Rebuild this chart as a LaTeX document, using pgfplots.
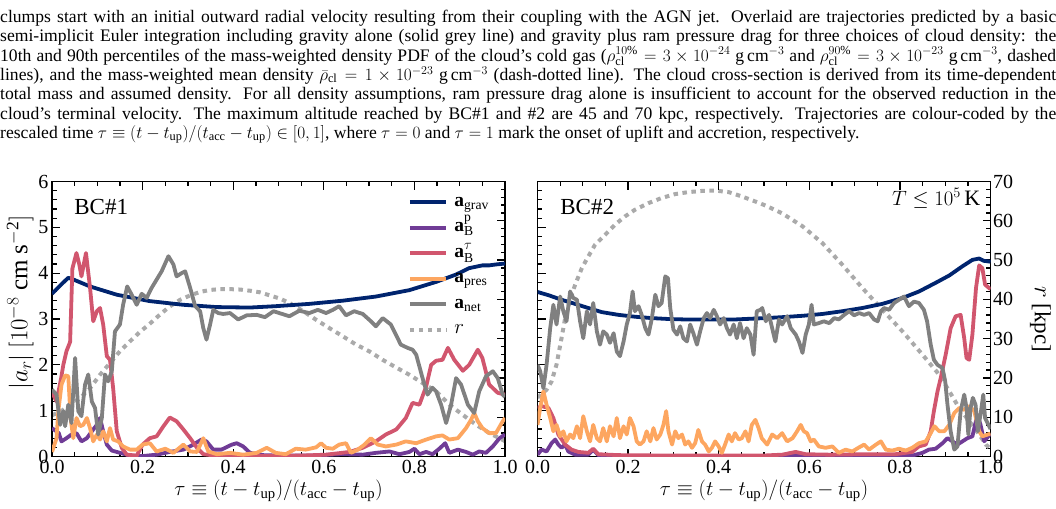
\documentclass[border=0pt]{standalone}
\usepackage{fontspec}
\setmainfont{Liberation Serif}
\usepackage{graphicx}
\usepackage{pgfplots}
\pgfplotsset{compat=1.18}
\definecolor{cgrav}{RGB}{0,36,110}
\definecolor{cbp}{RGB}{112,60,150}
\definecolor{cbt}{RGB}{209,86,110}
\definecolor{cpres}{RGB}{253,166,96}
\definecolor{cnet}{RGB}{128,128,128}
\definecolor{crr}{RGB}{170,170,170}
\newcommand{\fs}[1]{\fontsize{#1}{#1}\selectfont}
\pgfplotsset{
  base/.style={
    scale only axis, width=453pt, height=275pt,
    xmin=0, xmax=1, anchor=south west,
    tick align=inside,
    major tick length=8pt, minor tick length=4.5pt,
    every tick/.style={black, line width=1.3pt},
    axis line style={line width=1.8pt},
    /pgf/number format/assume math mode=true,
    tick label style={font=\fs{20}},
    every axis plot/.append style={line width=3.8pt, line join=round},
  },
  amain/.style={base,
    ymin=0, ymax=6, ytick={0,1,2,3,4,5,6}, minor y tick num=4,
    xtick={0,0.2,0.4,0.6,0.8,1}, minor x tick num=3,
    xtick pos=both, ytick pos=left,
    xticklabel style={/pgf/number format/fixed, /pgf/number format/fixed zerofill, /pgf/number format/precision=1},
    xlabel={$\tau\equiv(t-t_{\mathrm{up}})/(t_{\mathrm{acc}}-t_{\mathrm{up}})$},
    xlabel style={font=\fs{21}, at={(axis description cs:0.5,0)}, anchor=center, yshift=-34pt},
  },
  ar/.style={base,
    ymin=0, ymax=70, ytick={0,10,20,30,40,50,60,70}, minor y tick num=4,
    axis y line*=right, axis x line=none,
  },
  rline/.style={crr, line width=4pt, dash pattern=on 4.5pt off 4.5pt},
}
\begin{document}
\begin{tikzpicture}
\path[use as bounding box] (0pt,0pt) rectangle (1056pt,-508pt);
% caption
\begin{scope}[every node/.style={anchor=base west, inner sep=0pt, font=\fs{17.6}}]
\node at (0pt,-22.5pt) {\makebox[1056pt][s]{clumps start with an initial outward radial velocity resulting from their coupling with the AGN jet. Overlaid are trajectories predicted by a basic}};
\node at (0pt,-41.8pt) {\makebox[1056pt][s]{semi-implicit Euler integration including gravity alone (solid grey line) and gravity plus ram pressure drag for three choices of cloud density: the}};
\node at (0pt,-61.1pt) {\makebox[1056pt][s]{10th and 90th percentiles of the mass-weighted density PDF of the cloud's cold gas ($\rho_{\mathrm{cl}}^{10\%}=3\times10^{-24}$ g\,cm$^{-3}$ and $\rho_{\mathrm{cl}}^{90\%}=3\times10^{-23}$ g\,cm$^{-3}$, dashed}};
\node at (0pt,-80.4pt) {\makebox[1056pt][s]{lines), and the mass-weighted mean density $\bar{\rho}_{\mathrm{cl}}=1\times10^{-23}$ g\,cm$^{-3}$ (dash-dotted line). The cloud cross-section is derived from its time-dependent}};
\node at (0pt,-99.7pt) {\makebox[1056pt][s]{total mass and assumed density. For all density assumptions, ram pressure drag alone is insufficient to account for the observed reduction in the}};
\node at (0pt,-119pt) {\makebox[1056pt][s]{cloud's terminal velocity. The maximum altitude reached by BC\#1 and \#2 are 45 and 70 kpc, respectively. Trajectories are colour-coded by the}};
\node at (0pt,-138.3pt) {rescaled time $\tau\equiv(t-t_{\mathrm{up}})/(t_{\mathrm{acc}}-t_{\mathrm{up}})\in[0,1]$, where $\tau=0$ and $\tau=1$ mark the onset of uplift and accretion, respectively.};
\end{scope}

% ================= LEFT PANEL (BC#1) =================
\begin{axis}[ar, at={(52pt,-456.5pt)}, yticklabels={}]
\addplot[rline] coordinates {(0,10.5) (0.02,11.5) (0.04,13.2) (0.062,14.9) (0.084,17.4) (0.106,20.8) (0.128,23.8) (0.15,26.8) (0.172,29.3) (0.194,31.7) (0.216,33.8) (0.238,36.1) (0.26,38.2) (0.283,39.9) (0.305,41.0) (0.327,41.9) (0.349,42.4) (0.371,42.6) (0.393,42.6) (0.415,42.5) (0.437,42.2) (0.459,41.8) (0.481,41.0) (0.503,40.2) (0.524,39.1) (0.553,37.1) (0.583,34.8) (0.612,32.7) (0.642,30.6) (0.671,28.5) (0.7,26.8) (0.73,24.6) (0.759,22.7) (0.789,20.8) (0.818,18.7) (0.848,16.6) (0.877,13.2) (0.907,10.6) (0.936,8.1) (0.965,6.0) (0.987,4.7) (1.0,3.9)};
\end{axis}
\begin{axis}[amain, at={(52pt,-456.5pt)},
  ylabel={$|a_r|\ [10^{-8}\ \mathrm{cm\ s^{-2}}]$},
  ylabel style={font=\fs{25}, at={(axis description cs:-0.07,0.56)}, anchor=center},
  legend style={at={(axis description cs:0.785,0.962)}, anchor=north west, draw=none, fill=none, inner sep=0pt, row sep=5.5pt, column sep=5pt, font=\fs{19.5},
     nodes={inner sep=1pt, text height=13pt, text depth=5pt}, cells={anchor=west}},
  legend image code/.code={\draw[#1] (0pt,0pt) -- (36.6pt,0pt);},
]
\addplot[cgrav] coordinates {(0,3.55) (0.02,3.75) (0.036,3.9) (0.05,3.85) (0.084,3.71) (0.143,3.53) (0.216,3.39) (0.29,3.31) (0.364,3.26) (0.437,3.25) (0.494,3.28) (0.568,3.33) (0.642,3.40) (0.715,3.49) (0.789,3.63) (0.848,3.81) (0.892,3.97) (0.921,4.11) (0.95,4.17) (0.965,4.17) (0.98,4.19) (1.0,4.21)};
\addlegendentry{$\mathbf{a}_{\mathrm{grav}}$}
\addplot[cbp] coordinates {(0,0.62) (0.015,0.51) (0.021,0.33) (0.032,0.40) (0.043,0.48) (0.054,0.51) (0.065,0.33) (0.077,0.40) (0.088,0.55) (0.099,0.69) (0.106,0.84) (0.113,0.55) (0.121,0.26) (0.132,0.13) (0.15,0.08) (0.172,0.02) (0.2,0.01) (0.231,0.04) (0.26,0.10) (0.29,0.15) (0.312,0.26) (0.33,0.37) (0.341,0.33) (0.356,0.15) (0.374,0.15) (0.397,0.26) (0.408,0.29) (0.422,0.22) (0.437,0.08) (0.466,0.03) (0.5,0.02) (0.568,0.02) (0.642,0.05) (0.686,0.04) (0.715,0.08) (0.745,0.11) (0.767,0.05) (0.789,0.10) (0.8,0.17) (0.811,0.05) (0.826,0.10) (0.84,0.05) (0.855,0.17) (0.868,0.29) (0.877,0.08) (0.896,0.15) (0.914,0.10) (0.929,0.04) (0.943,0.11) (0.958,0.08) (0.973,0.22) (0.988,0.40) (1.0,0.48)};
\addlegendentry{$\mathbf{a}_{\mathrm{B}}^{\mathrm{p}}$}
\addplot[cbt] coordinates {(0,1.4) (0.01,1.2) (0.02,1.7) (0.025,2.0) (0.032,2.3) (0.04,2.5) (0.045,4.1) (0.054,4.44) (0.06,4.2) (0.065,3.93) (0.075,4.44) (0.084,3.68) (0.091,2.95) (0.099,3.17) (0.106,3.24) (0.113,2.88) (0.121,2.19) (0.128,2.11) (0.135,1.49) (0.143,0.55) (0.154,0.19) (0.165,0.04) (0.187,0.02) (0.2,0.26) (0.216,0.40) (0.231,0.44) (0.246,0.66) (0.26,0.85) (0.275,0.77) (0.29,0.59) (0.305,0.40) (0.32,0.19) (0.334,0.05) (0.36,0.02) (0.45,0.01) (0.55,0.02) (0.605,0.04) (0.657,0.10) (0.686,0.19) (0.715,0.33) (0.737,0.48) (0.76,0.59) (0.781,0.84) (0.796,1.17) (0.811,1.13) (0.826,1.53) (0.837,2.0) (0.848,2.09) (0.862,2.11) (0.874,2.37) (0.888,2.11) (0.907,1.87) (0.921,2.0) (0.94,2.33) (0.95,2.15) (0.965,1.57) (0.984,1.39) (1.0,1.35)};
\addlegendentry{$\mathbf{a}_{\mathrm{B}}^{\tau}$}
\addplot[cpres] coordinates {(0,0.1) (0.01,0.4) (0.014,0.99) (0.021,1.57) (0.029,1.77) (0.036,1.75) (0.041,0.84) (0.047,0.40) (0.054,0.84) (0.062,0.66) (0.069,0.69) (0.077,0.84) (0.084,0.62) (0.091,0.33) (0.099,0.48) (0.106,0.37) (0.113,0.55) (0.121,0.33) (0.128,0.62) (0.135,0.37) (0.146,0.33) (0.157,0.22) (0.172,0.15) (0.187,0.15) (0.2,0.26) (0.216,0.29) (0.231,0.11) (0.25,0.17) (0.268,0.08) (0.29,0.26) (0.305,0.11) (0.32,0.10) (0.334,0.40) (0.345,0.11) (0.364,0.05) (0.393,0.08) (0.422,0.04) (0.452,0.08) (0.474,0.19) (0.494,0.08) (0.516,0.05) (0.538,0.17) (0.56,0.15) (0.583,0.20) (0.594,0.29) (0.605,0.19) (0.62,0.17) (0.634,0.26) (0.649,0.29) (0.66,0.08) (0.675,0.15) (0.69,0.26) (0.704,0.40) (0.719,0.26) (0.737,0.22) (0.76,0.26) (0.781,0.33) (0.804,0.29) (0.826,0.37) (0.848,0.44) (0.862,0.46) (0.877,0.37) (0.896,0.40) (0.914,0.62) (0.925,0.80) (0.932,0.95) (0.94,0.77) (0.95,0.62) (0.965,0.51) (0.98,0.51) (0.995,0.77) (1.0,0.84)};
\addlegendentry{$\mathbf{a}_{\mathrm{pres}}$}
\addplot[cnet] coordinates {(0,1.46) (0.01,1.35) (0.018,0.69) (0.025,0.99) (0.029,0.66) (0.036,1.13) (0.043,0.73) (0.051,2.15) (0.058,0.99) (0.065,0.88) (0.073,1.57) (0.08,1.79) (0.088,1.2) (0.095,1.06) (0.102,0.48) (0.11,0.84) (0.117,1.79) (0.124,1.64) (0.132,1.86) (0.139,2.73) (0.15,2.88) (0.157,3.31) (0.166,3.71) (0.176,3.53) (0.187,3.31) (0.198,3.55) (0.209,3.46) (0.22,3.68) (0.231,3.86) (0.242,4.04) (0.257,4.37) (0.268,4.19) (0.275,3.93) (0.286,4.0) (0.294,4.04) (0.305,3.68) (0.316,3.28) (0.327,3.17) (0.334,2.8) (0.341,2.55) (0.349,2.88) (0.356,3.2) (0.367,3.13) (0.378,3.11) (0.393,3.13) (0.411,2.99) (0.43,3.08) (0.452,3.09) (0.47,3.04) (0.489,3.17) (0.524,3.06) (0.546,3.18) (0.568,3.13) (0.587,3.2) (0.605,3.13) (0.62,3.2) (0.634,3.28) (0.649,3.08) (0.667,3.17) (0.686,3.11) (0.704,2.95) (0.715,2.84) (0.73,3.02) (0.748,2.88) (0.759,2.66) (0.77,2.44) (0.785,2.37) (0.796,2.33) (0.804,2.22) (0.818,1.71) (0.829,1.35) (0.84,1.5) (0.848,1.42) (0.859,1.13) (0.87,0.73) (0.881,1.13) (0.892,1.71) (0.903,1.57) (0.918,1.13) (0.932,0.95) (0.943,1.42) (0.958,1.75) (0.973,1.86) (0.984,1.71) (0.995,1.35) (1.0,1.3)};
\addlegendentry{$\mathbf{a}_{\mathrm{net}}$}
\addlegendimage{rline}
\addlegendentry{$r$}
\node[anchor=north west, inner sep=0pt, font=\fs{23}] at (rel axis cs:0.049,0.935) {BC\#1};
\end{axis}

% ================= RIGHT PANEL (BC#2) =================
\begin{axis}[ar, at={(537.5pt,-456.5pt)},
  ylabel={$r$ [kpc]},
  ylabel style={font=\fs{23}, at={(axis description cs:1.11,0.5)}, anchor=center, rotate=180},
  yticklabel style={anchor=west, xshift=-1pt},
]
\addplot[rline] coordinates {(0,15) (0.02,17) (0.031,19.1) (0.042,23.4) (0.053,30.1) (0.061,35.2) (0.072,39.9) (0.083,43.7) (0.098,48.0) (0.112,50.9) (0.127,53.9) (0.149,56.4) (0.171,59.0) (0.193,61.1) (0.215,62.8) (0.245,64.5) (0.274,65.8) (0.304,66.8) (0.333,67.3) (0.363,67.6) (0.392,67.7) (0.422,67.3) (0.451,66.2) (0.481,64.9) (0.503,63.9) (0.54,61.9) (0.585,58.6) (0.629,54.3) (0.673,48.8) (0.717,42.9) (0.761,37.4) (0.806,31.8) (0.85,25.9) (0.887,20.8) (0.909,16.6) (0.931,12.3) (0.953,9.0) (0.975,5.6) (0.99,3.0) (1.0,2.0)};
\end{axis}
\begin{axis}[amain, at={(537.5pt,-456.5pt)}, yticklabels={}]
\addplot[cgrav] coordinates {(0,3.59) (0.024,3.52) (0.053,3.42) (0.083,3.33) (0.112,3.24) (0.142,3.15) (0.179,3.09) (0.215,3.05) (0.252,3.02) (0.289,3.0) (0.326,2.99) (0.4,2.99) (0.436,2.99) (0.503,3.02) (0.54,3.04) (0.585,3.07) (0.629,3.11) (0.673,3.17) (0.717,3.24) (0.761,3.33) (0.806,3.46) (0.842,3.6) (0.879,3.79) (0.909,3.95) (0.938,4.15) (0.96,4.29) (0.975,4.32) (0.985,4.27) (1.0,4.25)};
\addplot[cbp] coordinates {(0,0.04) (0.009,0.15) (0.02,0.11) (0.031,0.29) (0.039,0.37) (0.046,0.26) (0.053,0.19) (0.061,0.26) (0.068,0.11) (0.083,0.04) (0.112,0.04) (0.123,0.15) (0.134,0.03) (0.16,0.01) (0.5,0.01) (0.827,0.02) (0.85,0.08) (0.864,0.15) (0.879,0.17) (0.894,0.29) (0.905,0.40) (0.916,0.33) (0.927,0.26) (0.938,0.33) (0.949,0.40) (0.96,0.44) (0.971,0.91) (0.978,0.69) (0.986,0.33) (1.0,0.5)};
\addplot[cbt] coordinates {(0,1.06) (0.009,1.1) (0.024,1.06) (0.035,0.84) (0.046,0.48) (0.061,0.26) (0.075,0.15) (0.09,0.10) (0.112,0.08) (0.123,0.17) (0.134,0.05) (0.179,0.03) (0.3,0.02) (0.496,0.02) (0.54,0.04) (0.57,0.10) (0.592,0.05) (0.644,0.04) (0.717,0.05) (0.79,0.05) (0.827,0.10) (0.842,0.22) (0.857,0.26) (0.868,0.55) (0.875,0.99) (0.883,1.42) (0.89,1.71) (0.901,2.22) (0.912,2.8) (0.923,3.06) (0.934,3.09) (0.942,2.58) (0.947,2.15) (0.953,2.11) (0.96,2.66) (0.968,3.68) (0.975,4.17) (0.982,4.11) (0.988,3.75) (1.0,3.65)};
\addplot[cpres] coordinates {(0,0.69) (0.006,1.06) (0.013,1.42) (0.02,1.13) (0.028,0.84) (0.035,0.55) (0.042,0.69) (0.05,0.44) (0.057,0.55) (0.064,0.33) (0.072,0.48) (0.079,0.40) (0.087,0.66) (0.094,0.40) (0.101,0.88) (0.109,0.55) (0.116,0.33) (0.123,0.69) (0.131,0.40) (0.138,0.33) (0.145,0.62) (0.153,0.33) (0.16,0.66) (0.168,0.44) (0.175,0.84) (0.182,0.40) (0.19,0.66) (0.197,0.48) (0.204,0.84) (0.212,0.66) (0.219,0.33) (0.226,0.26) (0.234,0.33) (0.241,0.55) (0.249,0.33) (0.256,0.62) (0.263,0.37) (0.271,0.48) (0.278,0.69) (0.284,0.99) (0.289,0.55) (0.297,0.26) (0.304,0.55) (0.311,0.40) (0.319,0.48) (0.326,0.26) (0.333,0.33) (0.341,0.19) (0.348,0.29) (0.355,0.58) (0.363,0.33) (0.37,0.26) (0.378,0.11) (0.385,0.19) (0.392,0.33) (0.4,0.22) (0.407,0.08) (0.414,0.26) (0.422,0.48) (0.429,0.33) (0.436,0.51) (0.444,0.37) (0.451,0.40) (0.459,0.55) (0.466,0.33) (0.473,0.69) (0.481,0.80) (0.488,0.62) (0.495,0.40) (0.507,0.26) (0.518,0.48) (0.529,0.40) (0.54,0.51) (0.551,0.33) (0.563,0.40) (0.573,0.55) (0.581,0.69) (0.588,0.55) (0.595,0.51) (0.603,0.33) (0.61,0.37) (0.621,0.22) (0.636,0.19) (0.651,0.22) (0.665,0.08) (0.68,0.15) (0.695,0.11) (0.71,0.20) (0.721,0.26) (0.732,0.15) (0.747,0.26) (0.758,0.33) (0.769,0.15) (0.783,0.13) (0.798,0.17) (0.813,0.13) (0.827,0.19) (0.842,0.29) (0.857,0.33) (0.868,0.51) (0.876,0.66) (0.887,0.55) (0.898,0.55) (0.909,0.69) (0.92,0.95) (0.931,1.06) (0.942,1.02) (0.953,1.10) (0.964,0.99) (0.975,0.55) (0.982,0.44) (1.0,0.5)};
\addplot[cnet] coordinates {(0,2.0) (0.006,1.86) (0.013,1.49) (0.02,2.0) (0.028,2.8) (0.035,3.31) (0.042,2.88) (0.05,3.49) (0.057,3.17) (0.064,2.95) (0.072,3.6) (0.079,3.46) (0.087,3.42) (0.094,2.95) (0.101,2.58) (0.109,3.17) (0.116,2.88) (0.123,3.35) (0.131,2.73) (0.138,2.44) (0.145,2.73) (0.153,2.66) (0.16,2.48) (0.168,2.69) (0.175,2.29) (0.182,2.19) (0.19,2.51) (0.197,2.88) (0.204,3.13) (0.21,3.6) (0.215,3.17) (0.223,3.28) (0.23,3.09) (0.238,2.8) (0.245,2.66) (0.252,2.99) (0.26,3.53) (0.267,3.28) (0.274,3.35) (0.282,3.93) (0.288,3.89) (0.293,3.24) (0.3,2.77) (0.308,2.66) (0.315,2.84) (0.322,2.58) (0.33,2.51) (0.337,2.88) (0.344,2.69) (0.352,2.44) (0.359,2.73) (0.367,3.02) (0.374,3.13) (0.381,3.02) (0.389,3.2) (0.396,3.06) (0.403,2.88) (0.411,3.02) (0.418,2.8) (0.425,2.66) (0.433,2.88) (0.44,2.58) (0.447,2.91) (0.455,2.58) (0.462,2.8) (0.47,2.66) (0.477,2.22) (0.484,3.17) (0.492,3.2) (0.496,3.24) (0.504,2.95) (0.511,3.09) (0.518,2.8) (0.525,2.51) (0.533,2.99) (0.54,2.88) (0.551,3.06) (0.559,2.8) (0.57,2.66) (0.577,2.51) (0.585,2.26) (0.592,2.66) (0.599,2.88) (0.605,3.31) (0.61,2.88) (0.621,2.91) (0.632,2.95) (0.644,2.91) (0.655,3.02) (0.665,2.99) (0.677,3.09) (0.688,3.17) (0.699,3.08) (0.71,3.13) (0.721,3.09) (0.732,3.13) (0.743,2.99) (0.751,2.95) (0.758,3.17) (0.765,3.24) (0.776,3.2) (0.787,3.35) (0.798,3.42) (0.809,3.49) (0.82,3.28) (0.831,3.38) (0.842,3.35) (0.853,3.2) (0.86,2.95) (0.868,2.44) (0.875,2.11) (0.883,2.0) (0.894,1.93) (0.9,1.64) (0.905,1.13) (0.912,0.55) (0.92,0.15) (0.927,0.22) (0.934,0.99) (0.942,1.35) (0.947,1.06) (0.951,0.48) (0.956,1.06) (0.961,1.28) (0.967,1.13) (0.972,0.55) (0.979,0.99) (0.984,1.35) (0.988,0.84) (1.0,0.6)};
\node[anchor=north west, inner sep=0pt, font=\fs{23}] at (rel axis cs:0.05,0.935) {BC\#2};
\node[anchor=north east, inner sep=0pt, font=\fs{22}] at (rel axis cs:0.978,0.975) {$T\leq10^5\,$K};
\end{axis}
\end{tikzpicture}
\end{document}
